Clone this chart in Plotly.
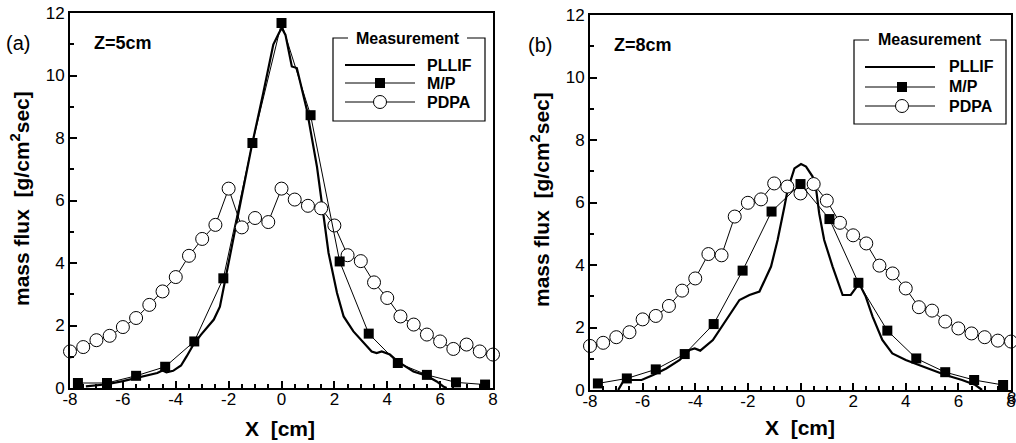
import plotly.graph_objects as go

# ---------------- data ----------------
x_pdpa = [-8.0, -7.5, -7.0, -6.5, -6.0, -5.5, -5.0, -4.5, -4.0, -3.5, -3.0, -2.5, -2.0, -1.5, -1.0, -0.5,
          0.0, 0.5, 1.0, 1.5, 2.0, 2.5, 3.0, 3.5, 4.0, 4.5, 5.0, 5.5, 6.0, 6.5, 7.0, 7.5, 8.0]
x_mp = [-7.7, -6.6, -5.5, -4.4, -3.3, -2.2, -1.1, 0.0, 1.1, 2.2, 3.3, 4.4, 5.5, 6.6, 7.7]

# panel (a) Z=5cm
a_pdpa_y = [1.17, 1.31, 1.53, 1.67, 1.95, 2.24, 2.66, 3.09, 3.55, 4.23, 4.77, 5.22, 6.38, 5.14, 5.44, 5.31,
            6.38, 6.03, 5.83, 5.75, 5.20, 4.25, 4.06, 3.38, 2.88, 2.29, 2.03, 1.71, 1.49, 1.25, 1.39, 1.17, 1.07]
a_mp_y = [0.16, 0.16, 0.39, 0.68, 1.49, 3.51, 7.84, 11.68, 8.73, 4.05, 1.74, 0.80, 0.42, 0.18, 0.11]
a_pllif_x = [-7.4, -6.6, -6.0, -5.5, -5.0, -4.7, -4.5, -4.35, -4.1, -3.8, -3.59, -3.33, -3.05, -2.83, -2.56,
             -2.33, -2.2, -1.95, -1.7, -1.13, -0.69, -0.31, -0.1, 0.01, 0.15, 0.26, 0.39, 0.58, 0.96, 1.34,
             1.59, 1.78, 2.1, 2.35, 2.72, 3.1, 3.41, 3.6, 3.79, 4.1, 4.39, 4.99, 5.49, 5.87, 6.12, 6.25]
a_pllif_y = [0.05, 0.12, 0.22, 0.32, 0.42, 0.48, 0.56, 0.50, 0.55, 0.72, 1.01, 1.39, 1.70, 1.92, 2.19,
             2.60, 3.15, 4.32, 5.28, 7.73, 9.44, 10.99, 11.35, 11.52, 11.30, 10.83, 10.29, 10.24, 8.90, 7.09,
             5.60, 4.32, 3.04, 2.29, 1.81, 1.44, 1.17, 1.12, 1.17, 1.07, 0.85, 0.53, 0.39, 0.21, 0.05, 0.0]

# panel (b) Z=8cm
b_pdpa_y = [1.41, 1.51, 1.69, 1.85, 2.26, 2.37, 2.69, 3.18, 3.57, 4.35, 4.31, 5.55, 5.99, 6.10, 6.61, 6.51,
            6.29, 6.59, 6.06, 5.35, 4.95, 4.69, 3.98, 3.73, 3.25, 2.65, 2.54, 2.19, 1.97, 1.81, 1.69, 1.58, 1.55]
b_mp_y = [0.21, 0.37, 0.66, 1.15, 2.11, 3.82, 5.71, 6.59, 5.47, 3.43, 1.90, 1.01, 0.57, 0.32, 0.16]
b_pllif_x = [-6.93, -6.74, -6.48, -6.04, -5.6, -5.1, -4.59, -4.21, -4.02, -3.81, -3.33, -2.82, -2.58, -2.32,
             -1.94, -1.56, -1.12, -0.87, -0.61, -0.49, -0.23, 0.02, 0.21, 0.46, 0.59, 0.71, 0.9, 1.22, 1.6,
             1.91, 2.23, 2.48, 2.74, 3.11, 3.49, 4.0, 4.5, 5.0, 5.51, 6.14, 6.65, 6.9]
b_pllif_y = [0.0, 0.27, 0.32, 0.32, 0.48, 0.69, 0.96, 1.28, 1.33, 1.26, 1.60, 2.24, 2.56, 2.88,
             3.04, 3.15, 3.95, 4.80, 5.87, 6.40, 7.09, 7.23, 7.15, 6.83, 6.45, 5.65, 4.80, 3.95, 3.04,
             3.04, 3.41, 2.99, 2.35, 1.60, 1.17, 0.96, 0.80, 0.64, 0.48, 0.32, 0.16, 0.0]

x_tickvals = [-8, -6, -4, -2, 0, 2, 4, 6, 8]
x_ticktext = ["-8", "-6", "-4", "-2", "0", "2", "4", "6", "8"]
y_tickvals = [0, 2, 4, 6, 8, 10, 12]
y_ticktext = ["0", "2", "4", "6", "8", "10", "12"]

series_names = ["PLLIF", "M/P", "PDPA"]
legend_title = "Measurement"
panel_labels = ["(a)", "(b)"]
z_labels = ["Z=5cm", "Z=8cm"]

# ---------------- layout helpers ----------------
W, H = 1016, 443
FONT = "Arial, Liberation Sans, sans-serif"


def px(x):
    return x / W


def py(y):
    return 1 - y / H


fig = go.Figure()

panels = [
    dict(xa="x", ya="y", pdpa=a_pdpa_y, mp=a_mp_y, px_=a_pllif_x, py_=a_pllif_y),
    dict(xa="x2", ya="y2", pdpa=b_pdpa_y, mp=b_mp_y, px_=b_pllif_x, py_=b_pllif_y),
]

for p in panels:
    fig.add_trace(go.Scatter(x=p["px_"], y=p["py_"], mode="lines", xaxis=p["xa"], yaxis=p["ya"],
                             line=dict(color="black", width=2.2), showlegend=False, name=series_names[0]))
    fig.add_trace(go.Scatter(x=x_pdpa, y=p["pdpa"], mode="lines+markers", xaxis=p["xa"], yaxis=p["ya"],
                             line=dict(color="black", width=1),
                             marker=dict(symbol="circle", size=13, color="white",
                                         line=dict(color="black", width=1)),
                             cliponaxis=False, showlegend=False, name=series_names[2]))
    fig.add_trace(go.Scatter(x=x_mp, y=p["mp"], mode="lines+markers", xaxis=p["xa"], yaxis=p["ya"],
                             line=dict(color="black", width=1),
                             marker=dict(symbol="square", size=10, color="black"),
                             cliponaxis=False, showlegend=False, name=series_names[1]))

xcommon = dict(range=[-8.0001, 8.0001], tickmode="array", tickvals=x_tickvals, ticktext=x_ticktext,
               ticks="inside", ticklen=7, tickwidth=1.5,
               tickcolor="black", minor=dict(dtick=0.5, tick0=-8, ticks="inside", ticklen=4, tickcolor="black"),
               showline=True, linewidth=2, linecolor="black", mirror=True, showgrid=False,
               zeroline=False, automargin=False, ticklabeloverflow="allow", ticklabelstandoff=-5,
               tickfont=dict(family=FONT, size=17, color="black"))
ycommon = dict(range=[0, 12], tickmode="array", tickvals=y_tickvals, ticktext=y_ticktext,
               ticks="inside", ticklen=7, tickwidth=1.5,
               tickcolor="black", minor=dict(dtick=1, tick0=0, ticks="inside", ticklen=4, tickcolor="black"),
               showline=True, linewidth=2, linecolor="black", mirror=True, showgrid=False,
               zeroline=False, automargin=False, ticklabeloverflow="allow",
               tickfont=dict(family=FONT, size=17, color="black"))

fig.update_layout(
    width=W, height=H, margin=dict(l=0, r=0, t=0, b=0, autoexpand=False),
    paper_bgcolor="white", plot_bgcolor="white", showlegend=False,
    xaxis=dict(domain=[px(70), px(493)], anchor="y", **xcommon),
    yaxis=dict(domain=[py(388), py(13)], anchor="x", **ycommon),
    xaxis2=dict(domain=[px(590), px(1011)], anchor="y2", **xcommon),
    yaxis2=dict(domain=[py(390), py(15)], anchor="x2", **ycommon),
)

ann = []
shapes = []


def text(x, y, s, size, bold=False, xanchor="center", angle=0):
    ann.append(dict(x=px(x), y=py(y), xref="paper", yref="paper",
                    text=("<b>" + s + "</b>") if bold else s, textangle=angle,
                    xanchor=xanchor, yanchor="middle", showarrow=False,
                    font=dict(family=FONT, size=size, color="black")))


# axis titles and panel texts
ytitle = "mass flux\u00a0\u00a0[g/cm<sup>2</sup>sec]"
xtitle = "X\u00a0\u00a0[cm]"
for (ytx, yty, xtx, xty, lx, ly, zx, zy, i) in [(20, 199, 280, 428, 18, 43, 92, 43, 0),
                                                (540, 200, 800, 427, 540, 45, 612, 45, 1)]:
    text(ytx, yty, ytitle, 21, bold=True, angle=-90)
    text(xtx, xty, xtitle, 21, bold=True)
    text(lx, ly, panel_labels[i], 20)
    text(zx, zy, z_labels[i], 18, bold=True, xanchor="left")

# last x tick label of panel (b) sits on the page edge (partly cut, as in the reference)
ann.append(dict(x=8, y=0, xref="x2", yref="paper", yshift=45, text=x_ticktext[-1], showarrow=False,
                xanchor="center", yanchor="middle", font=dict(family=FONT, size=17, color="black")))


# legends drawn as boxes
def legend(bx0, bx1, by0, by1, gap0, gap1, tcx, lx0, lx1, mx, tx, rows):
    path = (f"M {px(gap1)},{py(by0)} L {px(bx1)},{py(by0)} L {px(bx1)},{py(by1)} "
            f"L {px(bx0)},{py(by1)} L {px(bx0)},{py(by0)} L {px(gap0)},{py(by0)}")
    shapes.append(dict(type="path", path=path, xref="paper", yref="paper",
                       line=dict(color="black", width=1.2)))
    text(tcx, by0, legend_title, 16, bold=True)
    widths = [2.2, 1, 1]
    for k, ry in enumerate(rows):
        shapes.append(dict(type="line", xref="paper", yref="paper", x0=px(lx0), x1=px(lx1),
                           y0=py(ry), y1=py(ry), line=dict(color="black", width=widths[k])))
        if k == 1:
            shapes.append(dict(type="rect", xref="paper", yref="paper", x0=px(mx - 5), x1=px(mx + 5),
                               y0=py(ry + 5), y1=py(ry - 5), fillcolor="black", line=dict(width=0)))
        if k == 2:
            shapes.append(dict(type="circle", xref="paper", yref="paper", x0=px(mx - 6.5), x1=px(mx + 6.5),
                               y0=py(ry + 6.5), y1=py(ry - 6.5), fillcolor="white",
                               line=dict(color="black", width=1)))
        text(tx, ry, series_names[k], 16, bold=True, xanchor="left")


legend(333, 485, 38, 121, 348, 467, 408, 345, 415, 380, 425, [65, 83, 102])
legend(854, 1006, 40, 124, 869, 990, 930, 865, 935, 902, 947, [67, 87, 106])

fig.update_layout(annotations=ann, shapes=shapes)
fig.write_html("out.html", config={"displayModeBar": False},
               post_script="document.body.style.margin='0px';document.body.style.overflow='hidden';")
